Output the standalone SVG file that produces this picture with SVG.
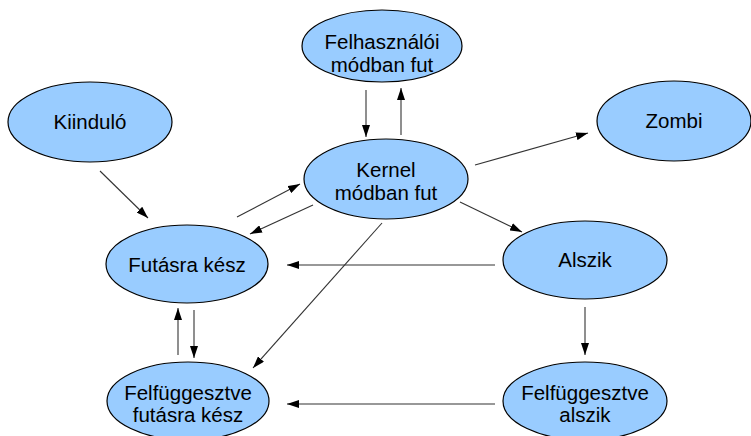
<svg xmlns="http://www.w3.org/2000/svg" width="751" height="436" viewBox="0 0 751 436">
<defs>
<marker id="ah" viewBox="0 0 12 8" refX="12" refY="4" markerWidth="12" markerHeight="8" orient="auto" markerUnits="userSpaceOnUse"><path d="M0,0 L12,4 L0,8 z" fill="#000"/></marker>
<style>
.n ellipse{fill:#99ccff;stroke:#000;stroke-width:1.2}
.n text{font-family:"Liberation Sans",Arial,sans-serif;font-size:20.5px;fill:#000;text-anchor:middle}
.c line{stroke:#333;stroke-width:1.1;marker-end:url(#ah)}
</style>
</defs>
<rect width="751" height="436" fill="#fff"/>
<g id="connectors" class="c">
<line x1="366" y1="90" x2="366" y2="137"/>
<line x1="401" y1="135" x2="401" y2="88"/>
<line x1="100" y1="171" x2="148" y2="218"/>
<line x1="237" y1="217" x2="300" y2="184"/>
<line x1="313" y1="205" x2="250" y2="234"/>
<line x1="475" y1="165" x2="588" y2="133"/>
<line x1="460" y1="202" x2="522" y2="232"/>
<line x1="495" y1="265" x2="287" y2="265"/>
<line x1="382" y1="223" x2="253" y2="368"/>
<line x1="194" y1="310" x2="194" y2="358"/>
<line x1="178" y1="355" x2="178" y2="308"/>
<line x1="585" y1="307" x2="585" y2="355"/>
<line x1="495" y1="404" x2="287" y2="404"/>
</g>
<g id="felhasznaloi" class="n"><ellipse cx="382" cy="46" rx="80" ry="36"/><text x="382" y="49">Felhasználói</text><text x="382" y="72">módban fut</text></g>
<g id="kiindulo" class="n"><ellipse cx="90" cy="122" rx="82" ry="40"/><text x="90" y="129">Kiinduló</text></g>
<g id="zombi" class="n"><ellipse cx="674" cy="121" rx="77" ry="40"/><text x="674" y="128">Zombi</text></g>
<g id="kernel" class="n"><ellipse cx="386" cy="179" rx="82" ry="40"/><text x="386" y="177">Kernel</text><text x="386" y="200">módban fut</text></g>
<g id="futasra" class="n"><ellipse cx="187" cy="264" rx="81" ry="39"/><text x="187" y="272">Futásra kész</text></g>
<g id="alszik" class="n"><ellipse cx="585" cy="260" rx="82" ry="39"/><text x="585" y="267">Alszik</text></g>
<g id="felf-futasra" class="n"><ellipse cx="188" cy="401" rx="81" ry="39"/><text x="188" y="400">Felfüggesztve</text><text x="188" y="422">futásra kész</text></g>
<g id="felf-alszik" class="n"><ellipse cx="585" cy="401" rx="82" ry="39"/><text x="585" y="400">Felfüggesztve</text><text x="585" y="422">alszik</text></g>
</svg>
